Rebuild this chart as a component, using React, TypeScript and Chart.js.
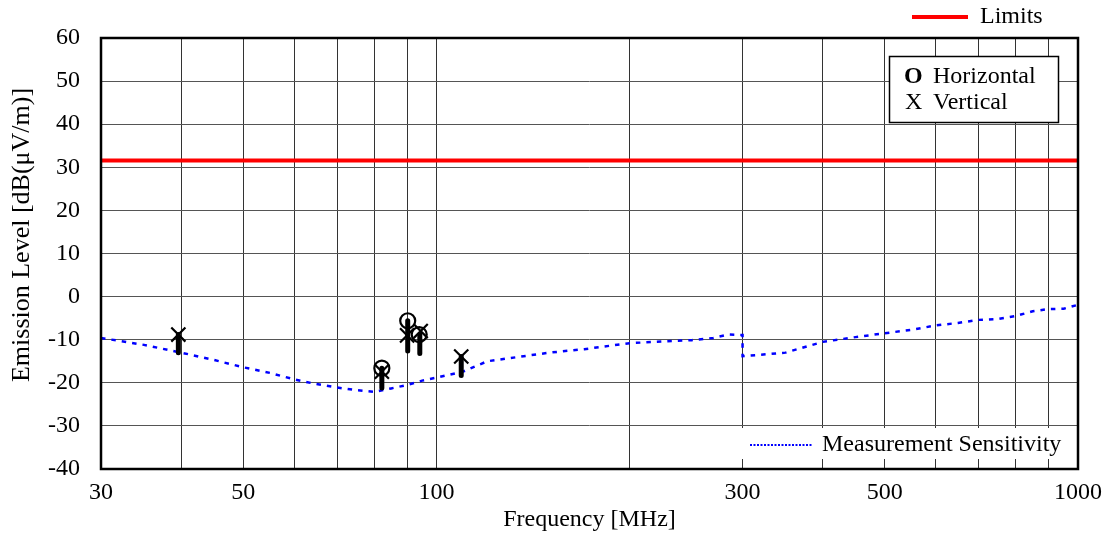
import React, { useEffect, useRef } from "react";
import { Chart, registerables } from "chart.js";

Chart.register(...registerables);

const FONT_FAMILY = '"Liberation Serif", "Times New Roman", serif';
const FONT_SIZE = 24;

// Measurement sensitivity (dotted blue)
const sensFreq = [30, 35, 40, 45, 50, 55, 60, 65, 70, 75, 80, 85, 90, 95, 100, 110, 120, 150, 170, 200, 250, 270, 285, 300, 300, 320, 350, 400, 450, 500, 550, 600, 650, 700, 750, 800, 850, 900, 950, 1000];
const sensLevel = [-9.6, -11.2, -13.0, -14.7, -16.4, -17.7, -19.2, -20.3, -21.1, -21.7, -22.1, -21.3, -20.5, -19.5, -18.8, -17.4, -15.0, -13.0, -12.2, -10.8, -10.1, -9.6, -8.8, -8.9, -13.8, -13.5, -13.0, -10.5, -9.4, -8.5, -7.7, -6.7, -6.1, -5.4, -5.2, -4.5, -3.4, -2.9, -2.8, -1.9];

// Limits (red)
const limitFreq = [30, 1000];
const limitLevel = [31.6, 31.6];

// Horizontal polarisation markers (O)
const horFreq = [82.2, 90.2, 94.0];
const horLevel = [-16.6, -5.6, -8.8];

// Vertical polarisation markers (X)
const verFreq = [39.6, 82.2, 90.0, 94.5, 109.3];
const verLevel = [-8.8, -17.4, -9.0, -8.0, -13.9];

// Marker stems
const stemFreq = [39.6, 82.2, 90.2, 94.2, 109.3];
const stemTop = [-8.8, -16.6, -5.6, -8.8, -13.9];
const stemBottom = [-13.0, -21.2, -12.6, -13.2, -18.3];

// Axes
const xGridValues = [30, 40, 50, 60, 70, 80, 90, 100, 200, 300, 400, 500, 600, 700, 800, 900, 1000];
const xLabelValues = [30, 50, 100, 300, 500, 1000];
const yMin = -40;
const yMax = 60;
const yStep = 10;

const xTitle = "Frequency [MHz]";
const yTitle = "Emission Level [dB(\u03bcV/m)]";
const limitsLabel = "Limits";
const horLabel = "Horizontal";
const verLabel = "Vertical";
const sensLabel = "Measurement Sensitivity";

const decorPlugin = {
  id: "decor",
  beforeDatasetsDraw(chart: any) {
    const { ctx, chartArea } = chart;
    ctx.save();
    ctx.fillStyle = "#ffffff";
    ctx.fillRect(737, 428, chartArea.right - 737, 31);
    ctx.restore();
  },
  afterDraw(chart: any) {
    const { ctx, chartArea } = chart;
    const font = `${FONT_SIZE}px ${FONT_FAMILY}`;
    ctx.save();
    ctx.strokeStyle = "#000";
    ctx.lineWidth = 2.5;
    ctx.strokeRect(chartArea.left, chartArea.top, chartArea.right - chartArea.left, chartArea.bottom - chartArea.top);

    ctx.fillStyle = "#000";
    ctx.font = font;
    ctx.textBaseline = "middle";

    ctx.textAlign = "center";
    ctx.fillText(xTitle, (chartArea.left + chartArea.right) / 2, 520);
    ctx.save();
    ctx.translate(22, 235);
    ctx.rotate(-Math.PI / 2);
    ctx.font = `26px ${FONT_FAMILY}`;
    ctx.fillText(yTitle, 0, 0);
    ctx.restore();

    ctx.textAlign = "left";
    ctx.strokeStyle = "#ff0000";
    ctx.lineWidth = 4;
    ctx.beginPath();
    ctx.moveTo(912, 17);
    ctx.lineTo(968, 17);
    ctx.stroke();
    ctx.fillText(limitsLabel, 980, 17);

    ctx.fillStyle = "#fff";
    ctx.fillRect(889.5, 56.5, 169, 66);
    ctx.strokeStyle = "#000";
    ctx.lineWidth = 1.5;
    ctx.strokeRect(889.5, 56.5, 169, 66);
    ctx.fillStyle = "#000";
    ctx.font = `bold ${FONT_SIZE}px ${FONT_FAMILY}`;
    ctx.fillText("O", 904, 77);
    ctx.font = font;
    ctx.fillText(horLabel, 933, 77);
    ctx.fillText("X", 905, 103);
    ctx.fillText(verLabel, 933, 103);

    ctx.strokeStyle = "#0000ff";
    ctx.lineWidth = 2;
    ctx.setLineDash([2, 1.5]);
    ctx.beginPath();
    ctx.moveTo(750, 445);
    ctx.lineTo(812, 445);
    ctx.stroke();
    ctx.setLineDash([]);
    ctx.fillText(sensLabel, 822, 445);
    ctx.restore();
  },
};

export default function App() {
  const canvasRef = useRef<HTMLCanvasElement | null>(null);

  useEffect(() => {
    document.body.style.margin = "0";
    const canvas = canvasRef.current;
    if (!canvas) return;

    const stemDatasets = stemFreq.map((f, i) => ({
      type: "line" as const,
      label: "stem" + i,
      data: [
        { x: f, y: stemTop[i] },
        { x: f, y: stemBottom[i] },
      ],
      borderColor: "#000",
      borderWidth: 5,
      borderCapStyle: "round" as const,
      pointRadius: 0,
      fill: false,
      order: 3,
    }));

    const chart = new Chart(canvas, {
      type: "line",
      data: {
        datasets: [
          {
            label: "Horizontal",
            data: horFreq.map((f, i) => ({ x: f, y: horLevel[i] })),
            showLine: false,
            pointStyle: "circle",
            pointRadius: 7.5,
            pointBorderWidth: 2.2,
            pointBorderColor: "#000",
            pointBackgroundColor: "rgba(0,0,0,0)",
            order: 1,
          } as any,
          {
            label: "Vertical",
            data: verFreq.map((f, i) => ({ x: f, y: verLevel[i] })),
            showLine: false,
            pointStyle: "crossRot",
            pointRadius: 10,
            pointBorderWidth: 2.2,
            pointBorderColor: "#000",
            order: 2,
          } as any,
          ...stemDatasets,
          {
            label: "Limits",
            data: limitFreq.map((f, i) => ({ x: f, y: limitLevel[i] })),
            borderColor: "#ff0000",
            borderWidth: 4,
            pointRadius: 0,
            order: 4,
          },
          {
            label: "Measurement Sensitivity",
            data: sensFreq.map((f, i) => ({ x: f, y: sensLevel[i] })),
            borderColor: "#0000ff",
            borderWidth: 2.5,
            borderDash: [4.5, 6],
            pointRadius: 0,
            tension: 0,
            order: 5,
          },
        ],
      },
      options: {
        animation: false,
        responsive: true,
        maintainAspectRatio: false,
        layout: { padding: { top: 38, right: 38, left: 0, bottom: 0 } },
        plugins: {
          legend: { display: false },
          tooltip: { enabled: false },
        },
        scales: {
          x: {
            type: "logarithmic",
            min: 30,
            max: 1000,
            afterBuildTicks: (axis: any) => {
              axis.ticks = xGridValues.map((v) => ({ value: v }));
            },
            afterFit: (axis: any) => {
              axis.height = 64;
            },
            ticks: {
              autoSkip: false,
              maxRotation: 0,
              padding: 9,
              color: "#000",
              font: { family: FONT_FAMILY, size: FONT_SIZE },
              callback: (value: any) => (xLabelValues.includes(Number(value)) ? String(value) : ""),
            },
            grid: { color: "#333", lineWidth: 1, drawTicks: false },
            border: { display: false },
          },
          y: {
            type: "linear",
            min: yMin,
            max: yMax,
            afterFit: (axis: any) => {
              axis.width = 101;
            },
            ticks: {
              stepSize: yStep,
              padding: 21,
              color: "#000",
              font: { family: FONT_FAMILY, size: FONT_SIZE },
            },
            grid: { color: "#555", lineWidth: 1, drawTicks: false },
            border: { display: false },
          },
        },
      },
      plugins: [decorPlugin],
    });

    return () => chart.destroy();
  }, []);

  return (
    <div style={{ position: "relative", width: 1116, height: 533 }}>
      <canvas ref={canvasRef} />
    </div>
  );
}
